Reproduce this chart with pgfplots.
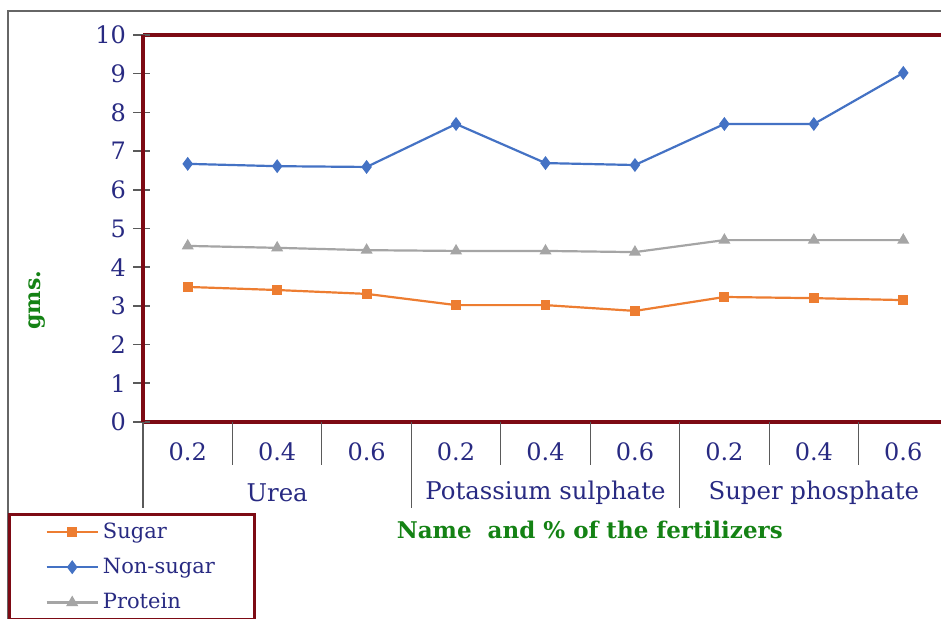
\documentclass[border=0pt]{standalone}
\usepackage{fontspec}
\setmainfont{DejaVu Serif}
\usepackage{pgfplots}
\pgfplotsset{compat=1.18}
\definecolor{navytxt}{RGB}{40,42,130}
\definecolor{framered}{RGB}{125,10,20}
\definecolor{lblgreen}{RGB}{20,130,20}
\definecolor{csugar}{RGB}{237,125,49}
\definecolor{cnon}{RGB}{68,114,196}
\definecolor{cprot}{RGB}{165,165,165}
\definecolor{sepgray}{RGB}{90,90,90}

\begin{document}
\begin{tikzpicture}
\useasboundingbox (0,0) rectangle (470.5pt,309.5pt);
\draw[gray!80!black, line width=0.6pt] (4pt,-5pt) rectangle (485pt,304pt);
\begin{axis}[
    name=ax,
    at={(71.5pt,98.5pt)}, anchor=south west,
    scale only axis,
    width=402.5pt, height=193.5pt,
    xmin=0.5, xmax=9.5, ymin=0, ymax=10,
    xtick={1,...,9},
    xticklabels={0.2,0.4,0.6,0.2,0.4,0.6,0.2,0.4,0.6},
    ytick={0,1,...,10},
    major tick length=0pt,
    axis line style={draw=framered, line width=1.6pt},
    axis x line*=bottom, axis y line*=left,
    every outer y axis line/.append style={-}, every outer x axis line/.append style={-},
    /pgf/number format/assume math mode=true,
    ticklabel style={font=\fontsize{12}{14}\selectfont, text=navytxt},
    xticklabel style={yshift=-7pt},
    yticklabel style={xshift=-5pt},
    clip=false,
    xlabel={Name \ and \% of the fertilizers},
    xlabel style={at={(axis description cs:0.555,-0.279)}, anchor=center,
        font=\fontsize{11.5}{13}\selectfont\bfseries, text=lblgreen},
    ylabel={gms.},
    ylabel style={at={(axis description cs:-0.1317,0.315)}, anchor=center,
        font=\fontsize{11}{13}\selectfont\bfseries, text=lblgreen},
    legend style={at={(axis description cs:-0.1677,-0.235)}, anchor=north west,
        draw=framered, line width=1.5pt, inner xsep=18pt, inner ysep=2pt,
        font=\fontsize{10.5}{12}\selectfont, text=navytxt,
        row sep=4.5pt, cells={anchor=west}},
    legend image code/.code={\draw[mark repeat=2, mark phase=2, #1] plot coordinates {(0cm,0cm) (0.45cm,0cm) (0.9cm,0cm)};},
]
\addplot[csugar, line width=1.1pt, mark=square*, mark size=1.9pt, mark options={solid}]
  coordinates {(1,3.49) (2,3.41) (3,3.31) (4,3.02) (5,3.02) (6,2.87) (7,3.23) (8,3.20) (9,3.15)};
\addlegendentry{Sugar}
\addplot[cnon, line width=1.1pt, mark=diamond*, mark size=2.6pt, mark options={solid}]
  coordinates {(1,6.67) (2,6.61) (3,6.59) (4,7.70) (5,6.69) (6,6.64) (7,7.70) (8,7.70) (9,9.02)};
\addlegendentry{Non-sugar}
\addplot[cprot, line width=1.1pt, mark=triangle*, mark size=2.4pt, mark options={solid}]
  coordinates {(1,4.55) (2,4.50) (3,4.44) (4,4.42) (5,4.42) (6,4.39) (7,4.70) (8,4.70) (9,4.70)};
\addlegendentry{Protein}
% category separators
\pgfplotsinvokeforeach{1.5,2.5,4.5,5.5,7.5,8.5}{
  \draw[sepgray, line width=0.6pt] (axis cs:#1,0) -- ++(0pt,-21.5pt);
}
\pgfplotsinvokeforeach{0.5,3.5,6.5,9.5}{
  \draw[sepgray, line width=0.6pt] (axis cs:#1,0) -- ++(0pt,-43pt);
}
\node[font=\fontsize{12.2}{14}\selectfont, text=navytxt, yshift=-35.5pt] at (axis cs:2,0) {Urea};
\node[font=\fontsize{12.2}{14}\selectfont, text=navytxt, yshift=-35.5pt] at (axis cs:5,0) {Potassium sulphate};
\node[font=\fontsize{12.2}{14}\selectfont, text=navytxt, yshift=-35.5pt] at (axis cs:8,0) {Super phosphate};
% top border of plot area
\draw[framered, line width=1.6pt] (axis cs:0.5,10) -- (axis cs:9.5,10);
\end{axis}
% y tick marks crossing the left axis line
\foreach \k in {0,...,10} {
  \draw[sepgray, line width=0.8pt] ([shift={(-5pt,\k*19.35pt)}]ax.south west) -- ++(8.5pt,0pt);
}
\draw[framered, line width=1.6pt] (ax.south west) -- (ax.north west);
\end{tikzpicture}
\end{document}
